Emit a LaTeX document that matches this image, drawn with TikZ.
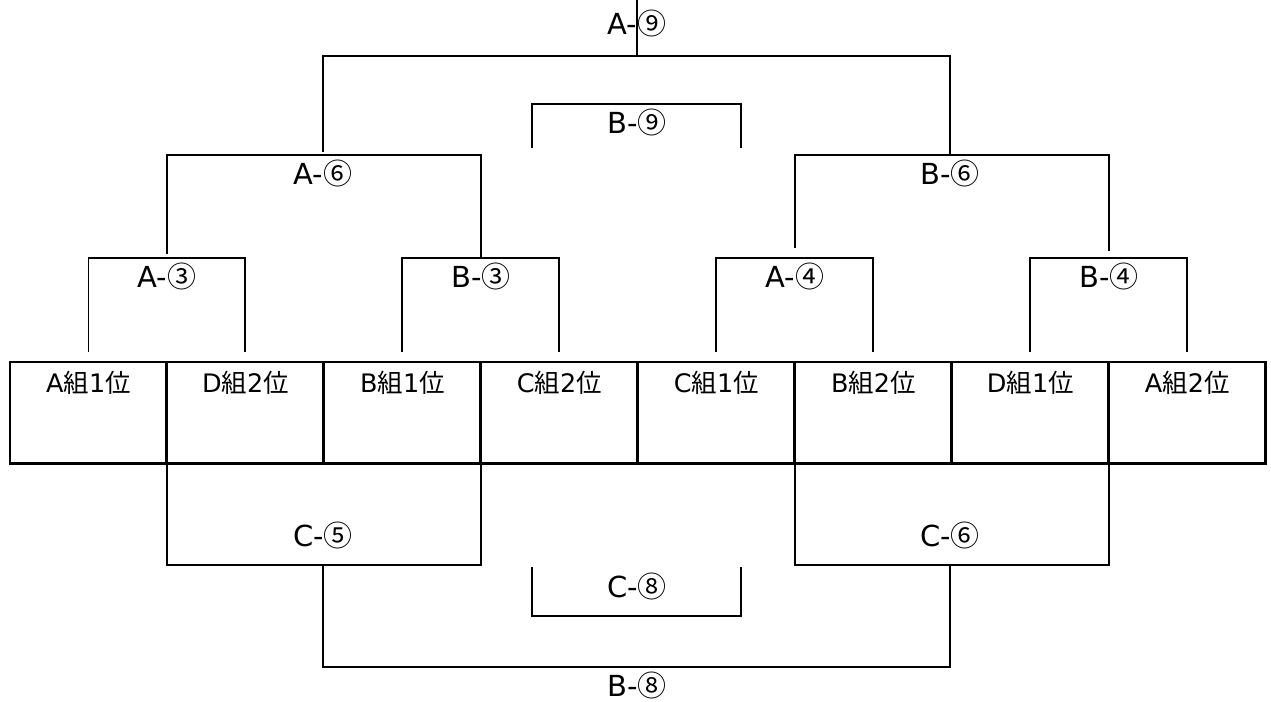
\documentclass[tikz,border=0pt]{standalone}
\usepackage{fontspec}
\setmainfont{DejaVu Sans}
\newfontfamily\jpfont{Noto Sans CJK JP}
\usetikzlibrary{positioning}
\newcommand\team[2]{#1{\jpfont 組}#2{\jpfont 位}}
\newcommand\game[2]{#1-{\jpfont #2}}

\begin{document}
\begin{tikzpicture}[x=0.02cm,y=-0.02cm,line width=1.1pt,
    team/.style={draw,line width=1.7pt,inner sep=0pt,outer sep=0pt,
      minimum width=3.14cm,text height=0.62cm,text depth=1.42cm,
      font=\fontsize{14.5}{16}\selectfont},
    match/.style={anchor=north,inner xsep=0pt,inner ysep=0.16cm,
      text height=0.42cm,text depth=0pt,font=\fontsize{16.5}{18}\selectfont},
    matchup/.style={match,anchor=south,inner ysep=0.36cm}]
    \useasboundingbox (0,0) rectangle (1271,702);

    % teams
    \node[team,anchor=north west] (a1) at (10,362) {\team A1};
    \node[team,right=0pt of a1]   (d2) {\team D2};
    \node[team,right=0pt of d2]   (b1) {\team B1};
    \node[team,right=0pt of b1]   (c2) {\team C2};
    \node[team,right=0pt of c2]   (c1) {\team C1};
    \node[team,right=0pt of c1]   (b2) {\team B2};
    \node[team,right=0pt of b2]   (d1) {\team D1};
    \node[team,right=0pt of d1]   (a2) {\team A2};

    % matches
    \node[match]   (A3) at (167,258)  {\game A③};
    \node[match]   (B3) at (481,258)  {\game B③};
    \node[match]   (A4) at (795,258)  {\game A④};
    \node[match]   (B4) at (1109,258) {\game B④};
    \node[match]   (A6) at (323,155)  {\game A⑥};
    \node[match]   (B6) at (950,155)  {\game B⑥};
    \node[matchup,inner ysep=0.42cm] (A9) at (637,56) {\game A⑨};
    \node[match]   (B9) at (637,104)  {\game B⑨};
    \node[matchup] (C5) at (323,565)  {\game C⑤};
    \node[matchup] (C6) at (950,565)  {\game C⑥};
    \node[matchup] (C8) at (637,616)  {\game C⑧};
    \node[match]   (B8) at (637,667)  {\game B⑧};

    \coordinate (top) at (637,0);
    \coordinate (b9l) at (532,148);
    \coordinate (b9r) at (741,148);
    \coordinate (c8l) at (532,567);
    \coordinate (c8r) at (741,567);

    % brackets
    \draw ([yshift=0.2cm]a1.north) |- (A3.north) -| ([yshift=0.2cm]d2.north);
    \draw ([yshift=0.2cm]b1.north) |- (B3.north) -| ([yshift=0.2cm]c2.north);
    \draw ([yshift=0.2cm]c1.north) |- (A4.north) -| ([yshift=0.2cm]b2.north);
    \draw ([yshift=0.2cm]d1.north) |- (B4.north) -| ([yshift=0.2cm]a2.north);
    \draw ([yshift=0.08cm]A3.north) |- (A6.north) -| (B3.north);
    \draw ([yshift=0.2cm]A4.north) |- (B6.north) -| ([yshift=0.14cm]B4.north);
    \draw ([yshift=0.06cm]A6.north) |- (A9.south) -| (B6.north);
    \draw (top) -- (A9.south);
    \draw (b9l) |- (B9.north) -| (b9r);
    \draw (a1.south east) |- (C5.south) -| (b1.south east);
    \draw (b2.south west) |- (C6.south) -| (a2.south west);
    \draw (c8l) |- (C8.south) -| (c8r);
    \draw (C5.south) |- (B8.north) -| (C6.south);
\end{tikzpicture}
\end{document}
